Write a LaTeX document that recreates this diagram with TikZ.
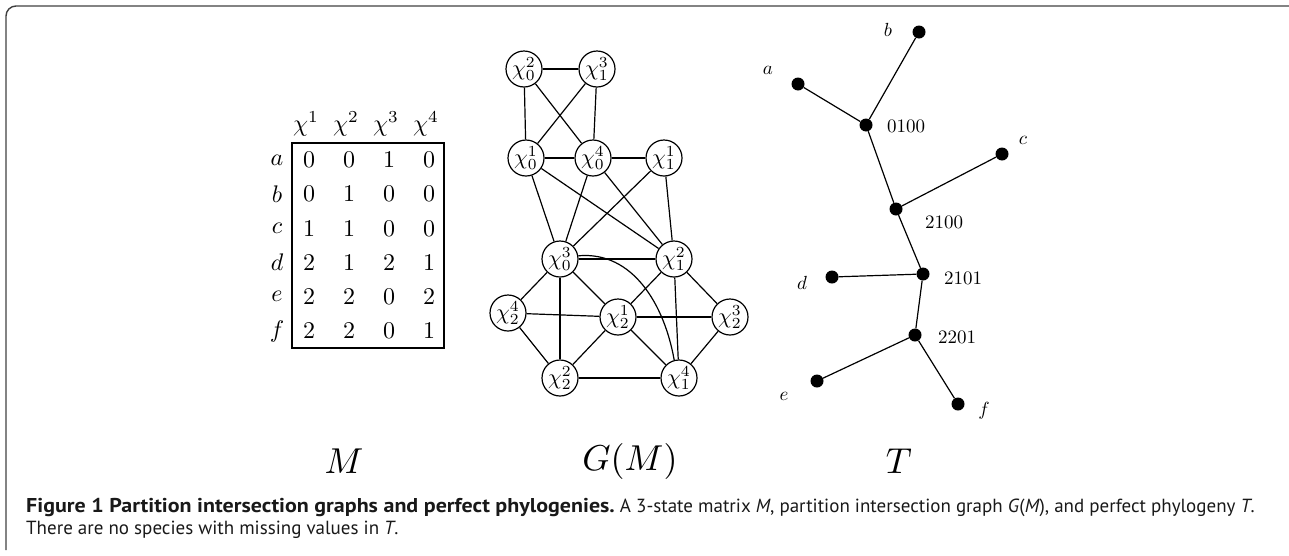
\documentclass[tikz,border=0pt]{standalone}
\usepackage{fontspec}
\setsansfont{PT Sans}
\newcommand\zz[2]{\scalebox{#1}{#2}}
\begin{document}
\begin{tikzpicture}[x=1pt,y=-1pt,
  frame/.style={draw=black!75,line width=1.4pt,rounded corners=10pt},
  gnode/.style={circle,draw,line width=1.2pt,minimum size=36pt,inner sep=0pt},
  gedge/.style={line width=1.2pt},
  dot/.style={circle,fill=black,minimum size=13pt,inner sep=0pt},
  tedge/.style={line width=1.2pt},
  tlab/.style={inner sep=0pt},
  mtx/.style={inner sep=0pt},
  big/.style={inner sep=0pt},
  captxt/.style={anchor=west,inner sep=0pt,text=black!90}]
\useasboundingbox (0,0) rectangle (1289,555);
% frame
\draw[frame] (6,550) -- (6,6) -- (1300,6);
% ---------- matrix ----------
\foreach \h [count=\i] in {309,349,389,429}
  \node[mtx] (h\i) at (\h-3,124) {\zz{2.4}{$\chi^{\i}$}};
\foreach \r [count=\j] in {a,b,c,d,e,f}
  \node[mtx] (r\j) at (277,160+34.2*\j-34.2) {\zz{2.4}{$\r$}};
\foreach \row [count=\j] in {{0,0,1,0},{0,1,0,0},{1,1,0,0},{2,1,2,1},{2,2,0,2},{2,2,0,1}}{
  \foreach \v [count=\i] in \row
    \node[mtx] (c\j\i) at (309+40*\i-40,160+34.2*\j-34.2) {\zz{2.4}{$\v$}};
}
\node[draw,line width=1.3pt,minimum width=152pt,minimum height=205pt,inner sep=0pt] (box) at (368,245.5) {};
% ---------- graph ----------
\node[gnode] (a02) at (524,69) {\zz{2.2}{$\chi^2_0$}};
\node[gnode] (a13) at (597,69) {\zz{2.2}{$\chi^3_1$}};
\node[gnode] (a01) at (526,158) {\zz{2.2}{$\chi^1_0$}};
\node[gnode] (a04) at (593,158) {\zz{2.2}{$\chi^4_0$}};
\node[gnode] (a11) at (664,158) {\zz{2.2}{$\chi^1_1$}};
\node[gnode] (a03) at (560,259) {\zz{2.2}{$\chi^3_0$}};
\node[gnode] (a12) at (674,259) {\zz{2.2}{$\chi^2_1$}};
\node[gnode] (a24) at (508,313) {\zz{2.2}{$\chi^4_2$}};
\node[gnode] (a21) at (618,317) {\zz{2.2}{$\chi^1_2$}};
\node[gnode] (a23) at (730,317) {\zz{2.2}{$\chi^3_2$}};
\node[gnode] (a22) at (560,378) {\zz{2.2}{$\chi^2_2$}};
\node[gnode] (a14) at (679,378) {\zz{2.2}{$\chi^4_1$}};
\foreach \p/\q in {a02/a13,a02/a01,a02/a04,a13/a01,a13/a04,a01/a04,a04/a11,
  a01/a03,a01/a12,a04/a03,a04/a12,a11/a03,a11/a12,
  a03/a12,a03/a24,a03/a22,a03/a21,a12/a21,a12/a14,a12/a23,
  a24/a21,a24/a22,a21/a23,a21/a22,a21/a14,a23/a14,a22/a14}
  \draw[gedge] (\p) -- (\q);
\draw[gedge] (a03.10) to[out=5,in=100] (a14.105);
% ---------- tree ----------
\node[dot] (tb) at (919,32) {};
\node[dot] (ta) at (798,84) {};
\node[dot] (t0100) at (866,125) {};
\node[dot] (tc) at (1002,154) {};
\node[dot] (t2100) at (896,209) {};
\node[dot] (t2101) at (923,274) {};
\node[dot] (td) at (832,277) {};
\node[dot] (t2201) at (915,335) {};
\node[dot] (te) at (817,381) {};
\node[dot] (tf) at (958,404) {};
\foreach \p/\q in {tb/t0100,ta/t0100,t0100/t2100,tc/t2100,t2100/t2101,td/t2101,t2101/t2201,te/t2201,tf/t2201}
  \draw[tedge] (\p) -- (\q);
\node[tlab] (lb) at (888,30) {\zz{1.9}{$b$}};
\node[tlab] (la) at (768,70) {\zz{1.9}{$a$}};
\node[tlab] (lc) at (1023,140) {\zz{1.9}{$c$}};
\node[tlab] (ld) at (802,283) {\zz{1.9}{$d$}};
\node[tlab] (le) at (784,396) {\zz{1.9}{$e$}};
\node[tlab] (lf) at (984,411) {\zz{1.9}{$f$}};
\node[tlab] (l0100) at (906,126) {\zz{1.9}{0100}};
\node[tlab] (l2100) at (944,222) {\zz{1.9}{2100}};
\node[tlab] (l2101) at (963,278) {\zz{1.9}{2101}};
\node[tlab] (l2201) at (957,337) {\zz{1.9}{2201}};
% ---------- labels ----------
\node[big] (LM) at (344,461) {\zz{3.6}{$M$}};
\node[big] (LG) at (630,461) {\zz{3.6}{$G(M)$}};
\node[big] (LT) at (899,461) {\zz{3.6}{$T$}};
% ---------- caption ----------
\node[captxt] (cap1) at (26,507)
 {\sffamily\fontsize{19}{22}\selectfont\scalebox{1.1}[1]{\fontsize{20}{22}\selectfont\bfseries Figure 1 Partition intersection graphs and perfect phylogenies.} A 3-state matrix \textit{M}, partition intersection graph \textit{G}(\textit{M}), and perfect phylogeny \textit{T}.};
\node[captxt] (cap2) at (26,530)
 {\sffamily\fontsize{19}{22}\selectfont There are no species with missing values in \textit{T}.};
\end{tikzpicture}
\end{document}
